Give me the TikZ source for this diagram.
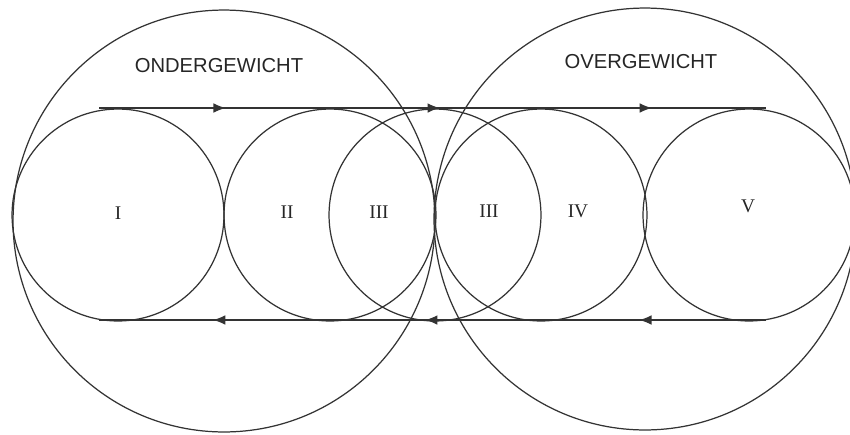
\documentclass[tikz,border=0pt]{standalone}
\usepackage{fontspec}
\setmainfont{Liberation Serif}
\setsansfont{Liberation Sans}
\usetikzlibrary{arrows.meta,decorations.markings}
\begin{document}
\begin{tikzpicture}[x=0.02cm,y=-0.02cm,
  ln/.style={draw=black!80,line width=0.7pt},
  small/.style={ln,circle,inner sep=0pt,minimum size=4.24cm},
  big/.style={ln,circle,inner sep=0pt,minimum size=8.44cm},
  num/.style={font=\fontsize{11}{12}\selectfont,text=black!85},
  title/.style={font=\sffamily\fontsize{11.5}{13}\selectfont,text=black!85},
  flow/.style={ln,postaction={decorate},decoration={markings,
    mark=at position 0.19 with {\arrow{Latex[length=7pt,width=5.5pt]}},
    mark=at position 0.511 with {\arrow{Latex[length=7pt,width=5.5pt]}},
    mark=at position 0.829 with {\arrow{Latex[length=7pt,width=5.5pt]}}}}]
\useasboundingbox (0,0) rectangle (850,434);
\clip (0,0) rectangle (850,434);
\fill[white] (0,0) rectangle (850,434);
% big circles
\node[big] (L) at (224,221) {};
\node[big] (R) at (645,219) {};
% small circles
\node[small] (c1) at (118,215) {};
\node[small] (c2) at (330,215) {};
\node[small] (c3) at (435,215) {};
\node[small] (c4) at (541,215) {};
\node[small] (c5) at (749,215) {};
% labels
\node[title] (tL) at (219,66) {ONDERGEWICHT};
\node[title] (tR) at (641,62) {OVERGEWICHT};
\node[num] (n1) at (118,213) {I};
\node[num] (n2) at (287,212) {II};
\node[num] (n3) at (379,212) {III};
\node[num] (n3b) at (489,211) {III};
\node[num] (n4) at (578,211) {IV};
\node[num] (n5) at (748,206) {V};
% top flow
\coordinate (t0) at (99,108);
\coordinate (t4) at (766,108);
\draw[flow] (t0) -- (t4);
% bottom flow
\coordinate (b0) at (766,320);
\coordinate (b4) at (99,320);
\draw[flow] (b0) -- (b4);
\end{tikzpicture}
\end{document}
